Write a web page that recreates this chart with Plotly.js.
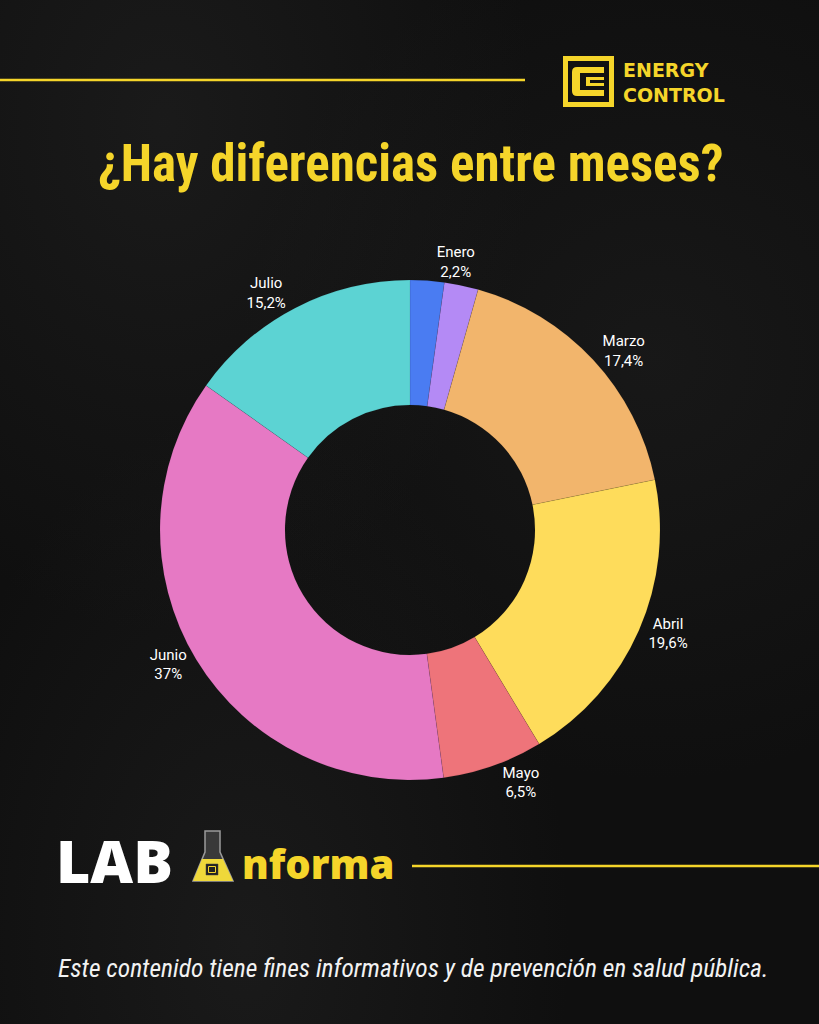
<!DOCTYPE html>
<html>
<head>
<meta charset="utf-8">
<script src="https://cdn.plot.ly/plotly-3.0.1.min.js"></script>
<style>
  html, body { margin: 0; padding: 0; }
  body {
    width: 819px; height: 1024px; overflow: hidden;
    background:
      radial-gradient(ellipse at 20% 12%, rgba(60,60,60,0.25), rgba(0,0,0,0) 40%),
      radial-gradient(ellipse at 80% 35%, rgba(55,55,55,0.22), rgba(0,0,0,0) 45%),
      radial-gradient(ellipse at 30% 92%, rgba(55,55,55,0.28), rgba(0,0,0,0) 40%),
      #0f0f0f;
  }
  #chart { width: 819px; height: 1024px; }
</style>
</head>
<body>
<div id="chart"></div>
<script>
// months in the order the slices go round, clockwise from 12 o'clock
const meses = ["Enero", "Febrero", "Marzo", "Abril", "Mayo", "Junio", "Julio"];
const porcentajes = [2.2, 2.2, 17.4, 19.6, 6.5, 37, 15.2];
const colores = ["#4a7cf2", "#b48af5", "#f2b56c", "#fedc5b", "#ee747a", "#e679c4", "#5cd3d3"];
// Febrero has no label in the original picture
const conEtiqueta = [true, false, true, true, true, true, true];

const titulo = "¿Hay diferencias entre meses?";
const pie = "Este contenido tiene fines informativos y de prevención en salud pública.";
const marca = ["ENERGY", "CONTROL"];

const amarillo = "#f5d52a";
const narrow = "'Liberation Sans Narrow', 'Roboto Condensed', Roboto, sans-serif";

const etiquetas = meses.map((m, i) =>
  conEtiqueta[i] ? m + "<br>" + String(porcentajes[i]).replace(".", ",") + "%" : ""
);

const W = 819, H = 1024;

let trace = {
  type: "pie",
  values: porcentajes,
  labels: meses,
  text: etiquetas,
  textinfo: "text",
  textposition: "outside",
  sort: false,
  direction: "clockwise",
  rotation: 0,
  hole: 0.5,
  marker: { colors: colores, line: { color: "rgba(0,0,0,0.15)", width: 0.5 } },
  outsidetextfont: { family: "Roboto", size: 15, color: "#ffffff" },
  domain: { x: [160 / W, 660 / W], y: [1 - 780 / H, 1 - 280 / H] },
  showlegend: false,
  hoverinfo: "label+percent"
};

// empty trace so the hidden pixel axes exist for shapes and annotations
let ejes = { type: "scatter", x: [], y: [], showlegend: false, hoverinfo: "skip" };

let shapes = [
  // yellow rules
  { type: "line", x0: 0, x1: 525, y0: 80, y1: 80, line: { color: amarillo, width: 2.5 } },
  { type: "line", x0: 412, x1: 819, y0: 866, y1: 866, line: { color: amarillo, width: 2.5 } },
  // logo box
  { type: "rect", x0: 563, x1: 614, y0: 56, y1: 107, fillcolor: amarillo, line: { width: 0 } },
  { type: "rect", x0: 568, x1: 609, y0: 61, y1: 102, fillcolor: "#111111", line: { width: 0 } },
  { type: "path", path: "M 604 67 L 577 67 Q 572 67 572 72 L 572 91 Q 572 96 577 96 L 604 96 L 604 90 L 580 90 L 580 73 L 604 73 Z",
    fillcolor: amarillo, line: { width: 0 } },
  { type: "path", path: "M 604 77 L 586 77 L 586 86 L 604 86 L 604 83 L 590 83 L 590 80 L 604 80 Z",
    fillcolor: amarillo, line: { width: 0 } },
  // flask
  { type: "path", path: "M 205 831 L 220 831 L 220 852 L 233 881 L 193 881 L 205 852 Z",
    fillcolor: "rgba(120,120,120,0.35)", line: { color: "#9a9a9a", width: 1.5 } },
  { type: "path", path: "M 202 859 L 223 859 L 233 881 L 193 881 Z",
    fillcolor: "#efd83a", line: { width: 0 } },
  { type: "rect", x0: 206, x1: 218, y0: 864, y1: 875, fillcolor: "#222222", line: { color: "#444", width: 0.5 } },
  { type: "rect", x0: 208.5, x1: 215.5, y0: 866.5, y1: 872.5, fillcolor: "rgba(0,0,0,0)", line: { color: amarillo, width: 1 } }
];

let annotations = [
  { x: 410, y: 163, text: "<b>" + titulo + "</b>", showarrow: false,
    font: { family: narrow, size: 51, color: amarillo } },
  { x: 621, y: 82, xanchor: "left", align: "left", text: "<b>" + marca.join("<br>") + "</b>", showarrow: false,
    font: { family: "DejaVu Sans", size: 19, color: amarillo } },
  { x: 54, y: 860, xanchor: "left", text: "LAB", showarrow: false,
    font: { family: "Open Sans", size: 59, color: "#ffffff", weight: 800 } },
  { x: 240, y: 863, xanchor: "left", text: "nforma", showarrow: false,
    font: { family: "Open Sans", size: 40, color: amarillo, weight: 800 } },
  { x: 413, y: 968, text: "<i>" + pie + "</i>", showarrow: false,
    font: { family: narrow, size: 25.5, color: "#f2f2f2" } }
];

let layout = {
  width: W,
  height: H,
  margin: { l: 0, r: 0, t: 0, b: 0 },
  paper_bgcolor: "rgba(0,0,0,0)",
  plot_bgcolor: "rgba(0,0,0,0)",
  xaxis: { range: [0, W], visible: false, fixedrange: true },
  yaxis: { range: [H, 0], visible: false, fixedrange: true },
  shapes: shapes,
  annotations: annotations,
  showlegend: false
};

Plotly.newPlot("chart", [ejes, trace], layout, { displayModeBar: false, staticPlot: true });
</script>
</body>
</html>
